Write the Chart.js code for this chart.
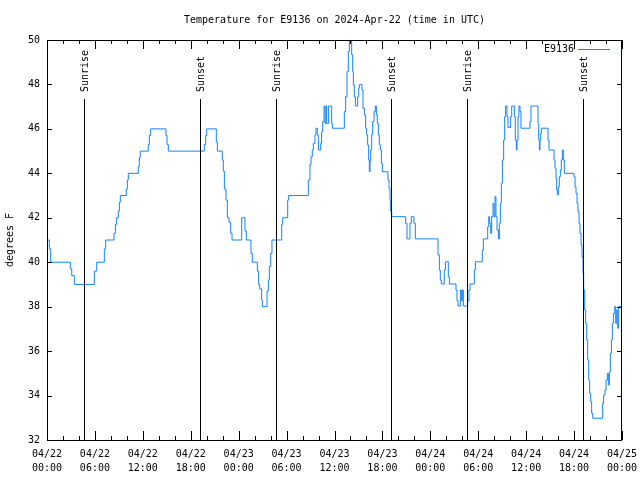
<!DOCTYPE html>
<html>
<head>
<meta charset="utf-8">
<script src="https://cdn.jsdelivr.net/npm/chart.js@4/dist/chart.umd.min.js"></script>
<style>
  html, body { margin: 0; padding: 0; background: #fff; }
  #wrap { width: 640px; height: 480px; }
</style>
</head>
<body>
<div id="wrap"><canvas id="c" width="640" height="480"></canvas></div>
<script>
// ---- data (hours since 2024-04-22 00:00 UTC, temperature in °F) ----
const hours = [
  0.15, 0.29, 0.46, 2.92, 3.1, 3.42, 5.93, 6.22, 7.18, 7.35,
  8.39, 8.56, 8.72, 8.93, 9.06, 9.18, 9.93, 10.06, 10.18, 11.43,
  11.56, 11.68, 12.68, 12.81, 12.98, 14.9, 15.03, 15.19, 19.7, 19.87,
  20.0, 21.2, 21.33, 21.95, 22.08, 22.21, 22.41, 22.58, 22.79, 23.0,
  23.17, 24.38, 24.79, 24.96, 25.54, 25.71, 26.34, 26.5, 26.63, 26.88,
  26.96, 27.55, 27.72, 27.84, 28.01, 28.17, 29.39, 29.51, 30.14, 30.26,
  32.72, 32.93, 33.06, 33.22, 33.35, 33.56, 33.68, 33.85, 33.98, 34.27,
  34.39, 34.52, 34.69, 34.81, 34.94, 35.02, 35.27, 35.65, 35.73, 37.23,
  37.4, 37.57, 37.73, 37.86, 38.15, 38.28, 38.36, 38.48, 38.61, 38.9,
  39.03, 39.11, 39.44, 39.57, 39.74, 39.9, 40.03, 40.15, 40.28, 40.36,
  40.45, 40.53, 40.66, 40.78, 40.95, 41.11, 41.24, 41.36, 41.49, 41.61,
  41.74, 41.87, 41.99, 42.7, 42.83, 42.95, 43.03, 43.16, 44.91, 45.08,
  45.45, 45.62, 45.95, 46.12, 48.96, 49.13, 49.25, 49.38, 49.75, 49.88,
  50.25, 50.38, 51.21, 51.34, 51.47, 51.76, 51.88, 52.01, 52.13, 52.68,
  52.84, 52.97, 53.51, 53.64, 54.51, 54.64, 55.18, 55.31, 55.43, 55.56,
  55.68, 55.85, 55.97, 56.1, 56.22, 56.35, 56.52, 56.64, 56.77, 56.89,
  57.02, 57.18, 57.31, 57.43, 57.6, 57.73, 58.06, 58.19, 58.52, 58.64,
  58.77, 58.85, 58.98, 59.1, 59.23, 59.35, 60.48, 60.6, 61.48, 61.57,
  61.65, 61.73, 61.82, 61.9, 62.74, 62.86, 63.49, 63.61, 63.74, 63.82,
  63.9, 64.03, 64.15, 64.28, 64.4, 64.53, 64.65, 64.78, 65.99, 66.12,
  66.24, 66.37, 66.49, 66.62, 66.74, 66.87, 66.99, 67.12, 67.2, 67.33,
  67.45, 67.58, 67.7, 67.83, 67.95, 68.08, 68.2, 68.33, 69.58, 69.7,
  69.87, 70.0, 70.17, 70.29, 70.42, 70.54, 70.67, 70.79, 70.92, 71.09,
  71.21, 71.34, 71.46, 71.59, 72.0
];
const temps = [
  41, 40.6, 40, 39.7, 39.4, 39, 39.6, 40, 40.6, 41,
  41.3, 41.7, 42, 42.3, 42.7, 43, 43.3, 43.7, 44, 44.3,
  44.7, 45, 45.3, 45.7, 46, 45.7, 45.3, 45, 45.3, 45.7,
  46, 45.4, 45, 44.6, 44.1, 43.3, 42.8, 42, 41.8, 41.3,
  41, 42, 41.4, 41, 40.4, 40, 39.6, 39, 38.8, 38.3,
  38, 38.7, 39.2, 39.8, 40.4, 41, 41.7, 42, 42.8, 43,
  43.7, 44.4, 44.75, 45.05, 45.35, 45.73, 46.03, 45.73, 45.05, 45.35,
  45.88, 46.33, 47.03, 46.25, 47.03, 46.25, 47.03, 46.25, 46.03, 46.78,
  47.45, 48.58, 49.48, 50, 49.33, 48.58, 47.98, 47.45, 47.03, 47.45,
  47.83, 48, 47.75, 46.93, 46.63, 46.03, 45.73, 45.28, 44.6, 44.07,
  44.53, 45.05, 45.73, 46.33, 46.78, 47.03, 46.63, 46.25, 45.73, 45.28,
  45.05, 44.45, 44.07, 43.7, 43.33, 42.8, 42.3, 42.05, 41.75, 41.05,
  41.75, 42.05, 41.75, 41.05, 40.33, 39.65, 39.2, 39.02, 39.65, 40.02,
  39.35, 39.02, 38.75, 38.27, 38.03, 38.75, 38.27, 38.75, 38.03, 38.27,
  38.75, 39.02, 39.65, 40.02, 40.55, 41.05, 41.6, 42.05, 41.75, 41.3,
  42.05, 42.65, 42.05, 42.95, 42.05, 41.45, 41.05, 41.75, 42.65, 43.55,
  44.6, 45.5, 46.55, 47.03, 46.55, 46.06, 46.55, 47.03, 46.55, 45.5,
  45.05, 45.5, 46.55, 47.03, 46.78, 46.03, 46.33, 47.03, 46.25, 45.5,
  45.05, 45.5, 45.8, 46.03, 45.5, 45.05, 44.6, 44.23, 43.78, 43.25,
  43.03, 43.4, 43.85, 44.15, 44.6, 45.05, 44.6, 44.0, 43.85, 43.4,
  43.1, 42.65, 42.28, 41.75, 41.3, 40.78, 40.25, 39.5, 38.75, 37.85,
  37.25, 36.5, 35.6, 34.7, 34.1, 33.73, 33.2, 32.98, 33.65, 34.03,
  34.25, 34.7, 35.0, 34.48, 35.07, 35.9, 36.5, 37.25, 37.7, 38.0,
  37.25, 37.85, 37.03, 38.0, 38.0
];

// Sunrise / sunset events (hours since start)
const sunHours  = [4.67, 19.12, 28.72, 43.12, 52.63, 67.12];
const sunLabels = ['Sunrise', 'Sunset', 'Sunrise', 'Sunset', 'Sunrise', 'Sunset'];
const sunLineTopTemp = 47.35;

// Tick labels for the x axis (every 6 hours)
const tickDates = ['04/22','04/22','04/22','04/22','04/23','04/23','04/23','04/23','04/24','04/24','04/24','04/24','04/25'];
const tickTimes = ['00:00','06:00','12:00','18:00','00:00','06:00','12:00','18:00','00:00','06:00','12:00','18:00','00:00'];

const seriesName = 'E9136';
const chartTitle = 'Temperature for E9136 on 2024-Apr-22 (time in UTC)';
const yTitle = 'degrees F';

const FONT = "'DejaVu Sans Mono', 'Liberation Mono', monospace";
const LINE_COLOR = '#1283ff';

Chart.defaults.font.family = FONT;
Chart.defaults.font.size = 10;
Chart.defaults.color = '#000';

const points = hours.map((h, i) => ({ x: h, y: temps[i] }));

const decorPlugin = {
  id: 'decor',
  afterDraw(chart) {
    const ctx = chart.ctx;
    const a = chart.chartArea;
    const xs = chart.scales.x, ys = chart.scales.y;
    ctx.save();
    ctx.strokeStyle = '#000';
    ctx.lineWidth = 1;
    // border
    ctx.strokeRect(Math.round(a.left) + 0.5, Math.round(a.top) + 0.5,
                   Math.round(a.right - a.left) - 1, Math.round(a.bottom - a.top));
    // x ticks (major every 6 h, minor every 2 h), bottom and top, inward
    ctx.beginPath();
    for (let h = xs.min; h <= xs.max; h += 2) {
      const px = Math.round(xs.getPixelForValue(h)) + 0.5;
      const len = (h % 6 === 0) ? 9 : 4;
      ctx.moveTo(px, a.bottom); ctx.lineTo(px, a.bottom - len);
      ctx.moveTo(px, a.top); ctx.lineTo(px, a.top + len);
    }
    // y ticks, left and right, inward
    for (let t = ys.min; t <= ys.max; t += 2) {
      const py = Math.round(ys.getPixelForValue(t)) + 0.5;
      ctx.moveTo(a.left, py); ctx.lineTo(a.left + 5, py);
      ctx.moveTo(a.right, py); ctx.lineTo(a.right - 5, py);
    }
    ctx.stroke();

    // sunrise / sunset markers
    const topY = ys.getPixelForValue(sunLineTopTemp);
    ctx.font = '10px ' + FONT;
    ctx.fillStyle = '#000';
    sunHours.forEach((h, i) => {
      const px = Math.round(xs.getPixelForValue(h)) + 0.5;
      ctx.beginPath();
      ctx.moveTo(px, Math.round(topY));
      ctx.lineTo(px, a.bottom);
      ctx.stroke();
      ctx.save();
      ctx.translate(px + 1, Math.round(topY) - 7);
      ctx.rotate(-Math.PI / 2);
      ctx.textAlign = 'left';
      ctx.textBaseline = 'middle';
      ctx.fillText(sunLabels[i], 0, 0);
      ctx.restore();
    });

    // legend (text left of a line sample), top right inside plot
    const ly = a.top + 9.5;
    ctx.textAlign = 'right';
    ctx.textBaseline = 'middle';
    ctx.fillText(seriesName, a.right - 48, ly);
    ctx.strokeStyle = LINE_COLOR;
    ctx.beginPath();
    ctx.moveTo(a.right - 44, ly);
    ctx.lineTo(a.right - 12, ly);
    ctx.stroke();
    ctx.restore();
  }
};

new Chart(document.getElementById('c'), {
  type: 'line',
  data: {
    datasets: [{
      label: seriesName,
      data: points,
      stepped: 'before',
      borderColor: LINE_COLOR,
      backgroundColor: LINE_COLOR,
      borderWidth: 1,
      pointRadius: 0,
      fill: false
    }]
  },
  options: {
    responsive: false,
    animation: false,
    devicePixelRatio: 1,
    layout: { padding: { left: 0, right: 18, top: 0, bottom: 0 } },
    plugins: {
      legend: { display: false },
      tooltip: { enabled: false },
      title: {
        display: true,
        text: chartTitle,
        fullSize: false,
        font: { size: 10, weight: 'normal', family: FONT, lineHeight: 1.2 },
        color: '#000',
        padding: { top: 14, bottom: 14 }
      }
    },
    scales: {
      x: {
        type: 'linear',
        min: 0,
        max: 72,
        grid: { display: false, drawTicks: false },
        border: { display: false },
        afterFit(axis) { axis.height = 40; axis.paddingLeft = 0; axis.paddingRight = 0; },
        ticks: {
          stepSize: 6,
          autoSkip: false,
          maxRotation: 0,
          minRotation: 0,
          padding: 7,
          font: { size: 10, family: FONT, lineHeight: 1.4 },
          callback(v) {
            const i = Math.round(v / 6);
            return [tickDates[i], tickTimes[i]];
          }
        }
      },
      y: {
        min: 32,
        max: 50,
        grid: { display: false, drawTicks: false },
        border: { display: false },
        afterFit(axis) { axis.width = 47; axis.paddingTop = 0; axis.paddingBottom = 0; },
        title: {
          display: true,
          text: yTitle,
          font: { size: 10, family: FONT },
          padding: { top: 4, bottom: 0 }
        },
        ticks: {
          stepSize: 2,
          padding: 7,
          font: { size: 10, family: FONT }
        }
      }
    }
  },
  plugins: [decorPlugin]
});
</script>
</body>
</html>
